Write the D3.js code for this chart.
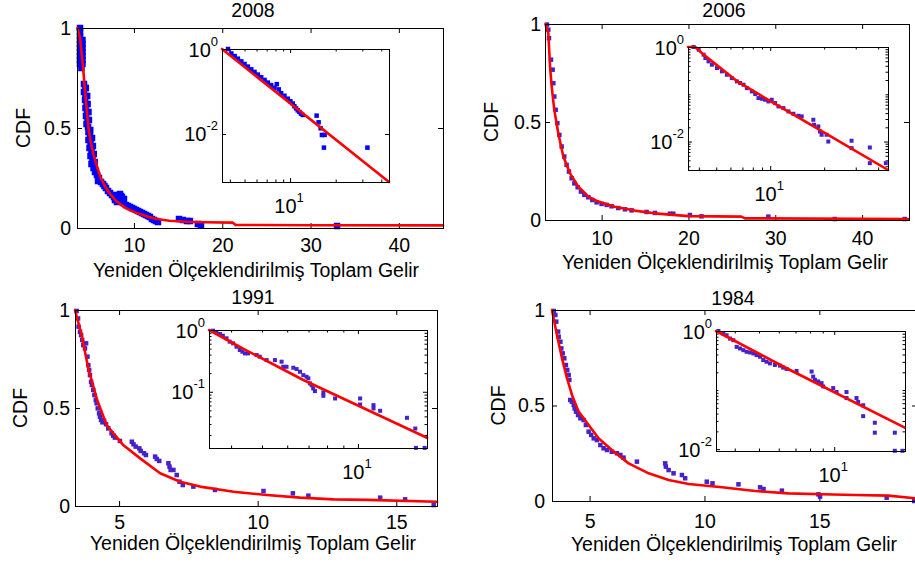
<!DOCTYPE html>
<html>
<head>
<meta charset="utf-8">
<script src="https://cdn.jsdelivr.net/npm/d3@7"></script>
<style>
  html, body { margin: 0; padding: 0; background: #fff; }
  svg { display: block; }
</style>
</head>
<body>
<svg id="fig" width="915" height="563"></svg>
<script>
const FONT = '"Liberation Sans", Arial, Helvetica, sans-serif';

// ---------- shared tick values ----------
const cdfTicks = [0, 0.5, 1];
const xTicksWide = [10, 20, 30, 40];
const xTicksNarrow = [5, 10, 15];
const insetXMajor = [10];
const insetXMinor = [4, 5, 6, 7, 8, 9, 20, 30, 40];

// ---------- 2008 ----------
const xRange2008 = [3.55, 45];
const fit2008 = [[3.6,1.0],[3.9,0.95],[4.1,0.86],[4.3,0.77],[4.55,0.64],[4.85,0.5],[5.1,0.43],[5.4,0.37],[5.8,0.31],[6.2,0.255],[6.7,0.21],[7.3,0.17],[8.0,0.135],[8.8,0.107],[9.6,0.088],[10.5,0.072],[11.5,0.058],[12.6,0.045],[14,0.036],[16,0.031],[18,0.029],[21.2,0.027],[21.5,0.015],[30,0.014],[45,0.013]];
const pts2008 = [
  [3.89,1.0],[3.89,0.98],[3.89,0.96],[3.89,0.94],[3.89,0.92],[3.89,0.90],[3.89,0.88],[3.89,0.86],[3.89,0.84],[3.89,0.82],
  [4.17,0.94],[4.17,0.92],[4.17,0.90],[4.17,0.88],[4.17,0.86],[4.17,0.84],[4.17,0.82],[4.05,0.80],
  [4.34,0.72],[4.51,0.70],[4.34,0.68],[4.51,0.66],[4.46,0.64],[4.63,0.62],[4.51,0.60],[4.68,0.58],[4.57,0.56],[4.74,0.54],[4.63,0.52],[4.80,0.505],
  [4.55,0.70],[4.70,0.66],[4.75,0.62],[4.85,0.58],[4.90,0.54],
  [4.85,0.48],[5.02,0.46],[4.85,0.44],[5.08,0.42],[4.97,0.40],[5.19,0.38],[5.08,0.36],[5.30,0.34],[5.19,0.32],[5.42,0.30],
  [5.05,0.49],[5.25,0.45],[5.35,0.41],[5.45,0.37],[5.55,0.33],
  [5.59,0.28],[5.81,0.265],[6.04,0.25],[5.93,0.235],[6.27,0.23],[6.49,0.22],[6.66,0.21],
  [6.83,0.20],[7.06,0.185],[7.29,0.175],[7.51,0.165],[7.74,0.155],[7.85,0.14],[7.97,0.145],[8.08,0.13],[8.19,0.165],[8.31,0.16],[8.42,0.17],[8.53,0.16],[8.64,0.155],[8.76,0.125],[8.87,0.145],
  [9.10,0.115],[9.32,0.11],[9.55,0.105],[9.78,0.10],[10.0,0.095],[10.23,0.09],[10.46,0.085],[10.68,0.08],[10.91,0.075],[11.14,0.07],[11.36,0.065],[11.59,0.06],[11.81,0.055],[12.04,0.045],[12.27,0.04],[12.49,0.035],[12.72,0.03],
  [15.1,0.045],[15.55,0.04],[16.0,0.035],[16.34,0.035],[17.24,0.02],[17.59,0.015],[33.0,0.01]
];
const insetX2008 = [3.55, 45];
const insetY2008 = [0.00074, 1];
const insetYMajor2008 = [1, 0.01];
const insetYMinor2008 = [];
const insetYLabels2008 = [[1, "0"], [0.01, "-2"]];
const insetFit2008 = [[3.55,1],[45,0.00074]];
const insetPts2008 = [
  [3.89,1.0],[4.09,0.786],[4.30,0.682],[4.52,0.592],[4.76,0.511],[5.00,0.444],[5.26,0.385],[5.54,0.332],[5.82,0.289],[6.12,0.250],
  [6.44,0.217],[6.78,0.187],[7.13,0.162],[7.50,0.141],[7.88,0.122],[8.17,0.149],[8.42,0.112],[8.72,0.0912],[9.17,0.0794],[9.65,0.0676],
  [10.04,0.0589],[10.41,0.052],[10.67,0.045],[10.95,0.040],[11.23,0.036],[11.51,0.033],[11.81,0.030],[12.11,0.028],
  [14.97,0.027],[15.43,0.0188],[15.91,0.0136],[16.23,0.00947],[16.90,0.00947],[16.73,0.00477],[32.42,0.00477]
];

// ---------- 2006 ----------
const xRange2006 = [3.48, 45.4];
const fit2006 = [[3.55,1.0],[3.86,0.954],[4.06,0.784],[4.25,0.681],[4.55,0.562],[5.01,0.443],[5.59,0.324],[6.36,0.238],[7.32,0.170],[8.47,0.119],[9.62,0.094],[11.5,0.068],[13.8,0.048],[16.1,0.034],[20.0,0.020],[26.1,0.017],[26.5,0.0085],[45.3,0.005]];
const pts2006 = [
  [3.71,0.997],[3.86,0.971],[3.94,0.928],[4.17,0.818],[4.36,0.767],[4.44,0.698],[4.55,0.630],[4.71,0.562],[4.90,0.494],[5.13,0.434],
  [5.40,0.375],[5.70,0.324],[5.97,0.281],[6.24,0.247],[6.55,0.213],[6.86,0.187],[7.24,0.167],[7.62,0.145],[8.01,0.128],[8.47,0.116],
  [8.93,0.102],[9.43,0.090],[10.0,0.082],[10.58,0.077],[11.15,0.070],[11.92,0.061],[12.69,0.0545],[13.45,0.049],[15.18,0.041],[16.14,0.036],
  [17.86,0.032],[18.25,0.032],[20.17,0.0256],[21.5,0.0187],[29.2,0.017],[36.85,0.005],[44.9,0.005]
];
const insetX2006 = [3.48, 45.4];
const insetY2006 = [0.0025, 1];
const insetYMajor2006 = [1, 0.01];
const insetYMinor2006 = [0.9,0.8,0.7,0.6,0.5,0.4,0.3,0.2,0.1,0.09,0.08,0.07,0.06,0.05,0.04,0.03,0.02,0.009,0.008,0.007,0.006,0.005,0.004,0.003];
const insetYLabels2006 = [[1, "0"], [0.01, "-2"]];
const insetFit2006 = [[3.48,1],[3.82,1],[4.25,0.69],[6.52,0.19],[9.7,0.077],[20.6,0.0145],[45.4,0.0025]];
const insetPts2006 = [
  [3.74,1.0],[3.99,0.878],[4.25,0.688],[4.35,0.585],[4.53,0.497],[4.73,0.422],[5.05,0.359],[5.38,0.305],[5.73,0.259],[6.11,0.220],
  [6.52,0.187],[6.80,0.173],[7.10,0.159],[7.41,0.135],[7.90,0.115],[8.25,0.101],[8.60,0.0831],[8.98,0.0804],[9.37,0.0766],[9.78,0.0706],
  [10.2,0.0766],[10.65,0.0651],[11.12,0.0553],[11.85,0.0510],[12.64,0.0434],[13.47,0.0387],[14.36,0.0351],[14.99,0.0340],[17.40,0.0289],
  [17.55,0.0226],[18.55,0.0209],[18.95,0.0163],[19.36,0.0139],[20.64,0.0139],[21.09,0.01],[28.43,0.0104],[28.43,0.00725],[35.95,0.00748],
  [35.95,0.00349],[44.13,0.00349]
];

// ---------- 1991 ----------
const xRange1991 = [3.41, 16.47];
const fit1991 = [[3.41,1.0],[3.65,0.872],[3.89,0.702],[4.19,0.549],[4.55,0.413],[5.15,0.311],[5.76,0.243],[6.48,0.167],[7.2,0.124],[7.92,0.099],[9.13,0.073],[10.33,0.056],[11.53,0.0425],[12.74,0.034],[13.94,0.031],[16.47,0.022]];
const pts1991 = [
  [3.47,0.995],[3.52,0.957],[3.54,0.915],[3.59,0.889],[3.63,0.872],[3.67,0.847],[3.71,0.821],[3.77,0.804],[3.81,0.830],[3.86,0.762],
  [3.89,0.719],[3.92,0.694],[3.95,0.668],[3.99,0.634],[4.02,0.617],[4.07,0.592],[4.11,0.566],[4.16,0.541],[4.19,0.524],[4.23,0.498],
  [4.28,0.473],[4.31,0.456],[4.35,0.439],[4.40,0.427],[4.46,0.434],[4.53,0.417],[4.61,0.396],[4.73,0.371],[4.79,0.359],[4.85,0.349],
  [5.03,0.332],[5.46,0.328],[5.52,0.315],[5.60,0.303],[5.73,0.294],[5.78,0.281],[5.90,0.269],[5.97,0.260],[6.30,0.252],[6.36,0.240],
  [6.45,0.230],[6.78,0.218],[6.82,0.201],[6.86,0.184],[6.96,0.184],[7.08,0.158],[7.18,0.124],[7.30,0.107],[7.68,0.099],[8.46,0.082],
  [10.21,0.0765],[11.27,0.0646],[11.83,0.0527],[14.42,0.0425],[15.32,0.034],[16.35,0.005]
];
const insetX1991 = [3.41, 16.47];
const insetY1991 = [0.0123, 1];
const insetYMajor1991 = [1, 0.1];
const insetYMinor1991 = [0.9,0.8,0.7,0.6,0.5,0.4,0.3,0.2,0.09,0.08,0.07,0.06,0.05,0.04,0.03,0.02];
const insetYLabels1991 = [[1, "0"], [0.1, "-1"]];
const insetFit1991 = [[3.41,1],[4.36,0.5],[6.74,0.155],[16.47,0.018]];
const insetPts1991 = [
  [3.51,0.975],[3.60,0.917],[3.69,0.861],[3.77,0.809],[3.87,0.733],[3.96,0.647],[4.06,0.608],[4.16,0.537],[4.26,0.474],[4.34,0.445],
  [4.42,0.418],[4.52,0.418],[4.81,0.393],[4.92,0.370],[5.17,0.326],[5.49,0.326],[5.76,0.307],[5.83,0.254],[5.97,0.254],[6.27,0.245],
  [6.42,0.233],[6.58,0.211],[6.74,0.186],[6.90,0.175],[6.99,0.165],[7.07,0.137],[7.16,0.128],[7.24,0.113],[7.33,0.1025],[7.79,0.0975],
  [7.79,0.0861],[8.48,0.0779],[10.16,0.0779],[10.16,0.0623],[11.19,0.0608],[11.19,0.0537],[11.74,0.0492],[14.25,0.0379],[15.13,0.0254],
  [15.21,0.01236],[16.19,0.01236]
];

// ---------- 1984 ----------
const xRange1984 = [3.365, 19.25];
const fit1984 = [[3.365,1.0],[3.58,0.869],[3.80,0.747],[4.02,0.642],[4.235,0.555],[4.525,0.468],[4.96,0.398],[5.39,0.328],[5.97,0.267],[6.70,0.197],[7.57,0.145],[8.44,0.110],[9.31,0.089],[10.76,0.0716],[12.21,0.0524],[13.65,0.040],[15.1,0.035],[16.55,0.0314],[18.0,0.028],[19.16,0.014]];
const pts1984 = [
  [3.44,0.995],[3.51,0.974],[3.55,0.939],[3.63,0.887],[3.655,0.860],[3.73,0.834],[3.77,0.799],[3.83,0.773],[3.90,0.747],[3.97,0.712],
  [4.03,0.686],[4.09,0.660],[4.12,0.634],[4.16,0.529],[4.23,0.520],[4.31,0.503],[4.35,0.485],[4.41,0.468],[4.50,0.450],[4.60,0.433],
  [4.74,0.424],[4.84,0.398],[4.96,0.363],[5.07,0.346],[5.18,0.328],[5.32,0.319],[5.47,0.293],[5.61,0.276],[5.76,0.267],[5.97,0.258],
  [6.19,0.250],[6.34,0.241],[6.48,0.227],[7.06,0.206],[8.29,0.197],[8.32,0.180],[8.44,0.162],[8.655,0.145],[9.02,0.136],[9.16,0.119],
  [10.10,0.101],[10.35,0.0925],[11.48,0.0873],[12.42,0.0716],[12.57,0.0628],[13.37,0.0541],[14.96,0.0349],[15.03,0.0227],[17.93,0.0175],[19.13,0.0]
];
const insetX1984 = [3.365, 19.2];
const insetY1984 = [0.0093, 1];
const insetYMajor1984 = [1, 0.01];
const insetYMinor1984 = [0.9,0.8,0.7,0.6,0.5,0.4,0.3,0.2,0.1,0.09,0.08,0.07,0.06,0.05,0.04,0.03,0.02];
const insetYLabels1984 = [[1, "0"], [0.01, "-2"]];
const insetFit1984 = [[3.365,1],[6.45,0.234],[19.16,0.0231]];
const insetPts1984 = [
  [3.44,1.0],[3.60,0.902],[3.71,0.846],[3.83,0.744],[3.95,0.698],[4.07,0.539],[4.20,0.506],[4.33,0.474],[4.46,0.445],[4.60,0.433],
  [4.75,0.417],[4.89,0.391],[5.05,0.367],[5.20,0.322],[5.36,0.302],[5.53,0.283],[5.79,0.266],[6.07,0.259],[6.25,0.240],[6.45,0.228],
  [7.07,0.211],[8.12,0.206],[8.24,0.169],[8.37,0.149],[8.63,0.140],[8.90,0.131],[9.04,0.115],[9.91,0.108],[10.22,0.0926],[11.20,0.0926],
  [11.20,0.0734],[12.28,0.0734],[12.47,0.0629],[13.06,0.0553],[13.06,0.0362],[14.54,0.028],[14.54,0.019],[17.48,0.019],[17.48,0.00938],[18.75,0.00938]
];

// ---------- panel geometry (pixels) and styling ----------
const BLUE = "#0000ff";
const VIOLET = "#4422cc";

const panels = [
  { title: "2008", xRange: xRange2008, xTicks: xTicksWide, fit: fit2008, pts: pts2008, color: BLUE, size: 6.5,
    L: 77, R: 443, T: 28, B: 228, titleX: 253, titleY: 17, xlabX: 256, xlabY: 277, ylabX: 30, tickY: 24, yGap: 6,
    inset: { L: 222, R: 389, T: 49, B: 182, xDomain: insetX2008, yDomain: insetY2008, yMajor: insetYMajor2008, yMinor: insetYMinor2008,
      yLabels: insetYLabels2008, fit: insetFit2008, pts: insetPts2008, color: BLUE, size: 4.5 } },
  { title: "2006", xRange: xRange2006, xTicks: xTicksWide, fit: fit2006, pts: pts2006, color: VIOLET, size: 4.5,
    L: 545, R: 909, T: 24, B: 220, titleX: 724, titleY: 17, xlabX: 725, xlabY: 269, ylabX: 498, tickY: 25, yGap: 4,
    inset: { L: 688, R: 888, T: 47, B: 170, xDomain: insetX2006, yDomain: insetY2006, yMajor: insetYMajor2006, yMinor: insetYMinor2006,
      yLabels: insetYLabels2006, fit: insetFit2006, pts: insetPts2006, color: VIOLET, size: 4 } },
  { title: "1991", xRange: xRange1991, xTicks: xTicksNarrow, fit: fit1991, pts: pts1991, color: VIOLET, size: 4.5,
    L: 75, R: 437, T: 310, B: 506, titleX: 253, titleY: 304, xlabX: 253, xlabY: 550, ylabX: 27, tickY: 23, yGap: 5,
    inset: { L: 209, R: 427, T: 330, B: 448, xDomain: insetX1991, yDomain: insetY1991, yMajor: insetYMajor1991, yMinor: insetYMinor1991,
      yLabels: insetYLabels1991, fit: insetFit1991, pts: insetPts1991, color: VIOLET, size: 4 } },
  { title: "1984", xRange: xRange1984, xTicks: xTicksNarrow, fit: fit1984, pts: pts1984, color: VIOLET, size: 4.5,
    L: 552, R: 917, T: 310, B: 501, titleX: 733, titleY: 305, xlabX: 734, xlabY: 551, ylabX: 505, tickY: 27, yGap: 7,
    inset: { L: 716, R: 905, T: 331, B: 451, xDomain: insetX1984, yDomain: insetY1984, yMajor: insetYMajor1984, yMinor: insetYMinor1984,
      yLabels: insetYLabels1984, fit: insetFit1984, pts: insetPts1984, color: VIOLET, size: 4 } }
];

const FS = 19.5;
const svg = d3.select("#fig").attr("font-family", FONT);
svg.append("rect").attr("width", 915).attr("height", 563).attr("fill", "#fff");

// Attach an axis generator at a translation, drop its domain path, restyle text
function attachAxis(parent, gen, tx, ty) {
  const g = parent.append("g").attr("transform", `translate(${tx},${ty})`).call(gen);
  g.select(".domain").remove();
  g.attr("font-family", FONT).attr("font-size", FS);
  g.selectAll(".tick line").attr("stroke", "#000");
  g.selectAll(".tick text").attr("fill", "#000");
  return g;
}

function drawSquares(parent, data, x, y, color, size) {
  parent.append("g").selectAll("rect").data(data).join("rect")
    .attr("x", d => x(d[0]) - size / 2)
    .attr("y", d => y(d[1]) - size / 2)
    .attr("width", size).attr("height", size)
    .attr("fill", color);
}

function drawFit(parent, data, x, y) {
  parent.append("path").datum(data)
    .attr("d", d3.line().x(d => x(d[0])).y(d => y(d[1])))
    .attr("fill", "none").attr("stroke", "#ff0000").attr("stroke-width", 2.6)
    .attr("stroke-linejoin", "round").attr("stroke-linecap", "round");
}

function powLabel(parent, px, py, anchor, exp) {
  const t = parent.append("text").attr("x", px).attr("y", py)
    .attr("text-anchor", anchor).attr("font-size", 20).attr("fill", "#000");
  t.append("tspan").text("10");
  t.append("tspan").attr("dy", -11).attr("font-size", 13).text(exp);
}

function drawPanel(p) {
  const g = svg.append("g");
  const x = d3.scaleLinear().domain(p.xRange).range([p.L, p.R]);
  const y = d3.scaleLinear().domain([0, 1]).range([p.B, p.T]);
  const none = () => "";

  // main axes: ticks point inward on all four sides
  attachAxis(g, d3.axisBottom(x).tickValues(p.xTicks).tickSizeInner(-5).tickSizeOuter(0).tickFormat(d3.format("d")), 0, p.B)
    .selectAll(".tick text").attr("y", p.tickY).attr("dy", null);
  attachAxis(g, d3.axisTop(x).tickValues(p.xTicks).tickSizeInner(-5).tickSizeOuter(0).tickFormat(none), 0, p.T);
  attachAxis(g, d3.axisLeft(y).tickValues(cdfTicks).tickSizeInner(-5).tickSizeOuter(0).tickPadding(p.yGap).tickFormat(d => String(d)), p.L, 0);
  attachAxis(g, d3.axisRight(y).tickValues(cdfTicks).tickSizeInner(-5).tickSizeOuter(0).tickFormat(none), p.R, 0);

  drawSquares(g, p.pts, x, y, p.color, p.size);
  drawFit(g, p.fit, x, y);

  g.append("rect").attr("x", p.L + 0.5).attr("y", p.T + 0.5)
    .attr("width", p.R - p.L).attr("height", p.B - p.T)
    .attr("fill", "none").attr("stroke", "#000").attr("stroke-width", 1);

  g.append("text").attr("x", p.titleX).attr("y", p.titleY).attr("text-anchor", "middle")
    .attr("font-size", FS).attr("fill", "#000").text(p.title);
  g.append("text").attr("x", p.xlabX).attr("y", p.xlabY).attr("text-anchor", "middle")
    .attr("font-size", FS).attr("fill", "#000").text("Yeniden Ölçeklendirilmiş Toplam Gelir");
  g.append("text").attr("transform", `translate(${p.ylabX},${(p.T + p.B) / 2}) rotate(-90)`)
    .attr("text-anchor", "middle").attr("font-size", FS).attr("fill", "#000").text("CDF");

  // log-log inset
  const q = p.inset;
  const ig = g.append("g");
  const xi = d3.scaleLog().domain(q.xDomain).range([q.L, q.R]);
  const yi = d3.scaleLog().domain(q.yDomain).range([q.B, q.T]);
  ig.append("rect").attr("x", q.L + 0.5).attr("y", q.T + 0.5)
    .attr("width", q.R - q.L).attr("height", q.B - q.T)
    .attr("fill", "#fff").attr("stroke", "none");

  const inX = v => v >= q.xDomain[0] && v <= q.xDomain[1];
  const inY = v => v >= q.yDomain[0] && v <= q.yDomain[1];
  const xMinor = insetXMinor.filter(inX);
  const yMinor = q.yMinor.filter(inY);

  attachAxis(ig, d3.axisBottom(xi).tickValues(insetXMajor).tickSizeInner(-4).tickSizeOuter(0).tickFormat(none), 0, q.B);
  attachAxis(ig, d3.axisBottom(xi).tickValues(xMinor).tickSizeInner(-2.5).tickSizeOuter(0).tickFormat(none), 0, q.B);
  attachAxis(ig, d3.axisTop(xi).tickValues(insetXMajor).tickSizeInner(-4).tickSizeOuter(0).tickFormat(none), 0, q.T);
  attachAxis(ig, d3.axisTop(xi).tickValues(xMinor).tickSizeInner(-2.5).tickSizeOuter(0).tickFormat(none), 0, q.T);
  attachAxis(ig, d3.axisLeft(yi).tickValues(q.yMajor).tickSizeInner(-4).tickSizeOuter(0).tickFormat(none), q.L, 0);
  attachAxis(ig, d3.axisLeft(yi).tickValues(yMinor).tickSizeInner(-2.5).tickSizeOuter(0).tickFormat(none), q.L, 0);
  attachAxis(ig, d3.axisRight(yi).tickValues(q.yMajor).tickSizeInner(-4).tickSizeOuter(0).tickFormat(none), q.R, 0);
  attachAxis(ig, d3.axisRight(yi).tickValues(yMinor).tickSizeInner(-2.5).tickSizeOuter(0).tickFormat(none), q.R, 0);

  drawSquares(ig, q.pts, xi, yi, q.color, q.size);
  drawFit(ig, q.fit, xi, yi);

  ig.append("rect").attr("x", q.L + 0.5).attr("y", q.T + 0.5)
    .attr("width", q.R - q.L).attr("height", q.B - q.T)
    .attr("fill", "none").attr("stroke", "#000").attr("stroke-width", 1);

  q.yLabels.forEach(([v, e]) => powLabel(ig, q.L - 4, yi(v) + 7.5, "end", e));
  insetXMajor.forEach(v => powLabel(ig, xi(v) - 1, q.B + 31, "middle", "1"));
}

panels.forEach(drawPanel);
</script>
</body>
</html>
